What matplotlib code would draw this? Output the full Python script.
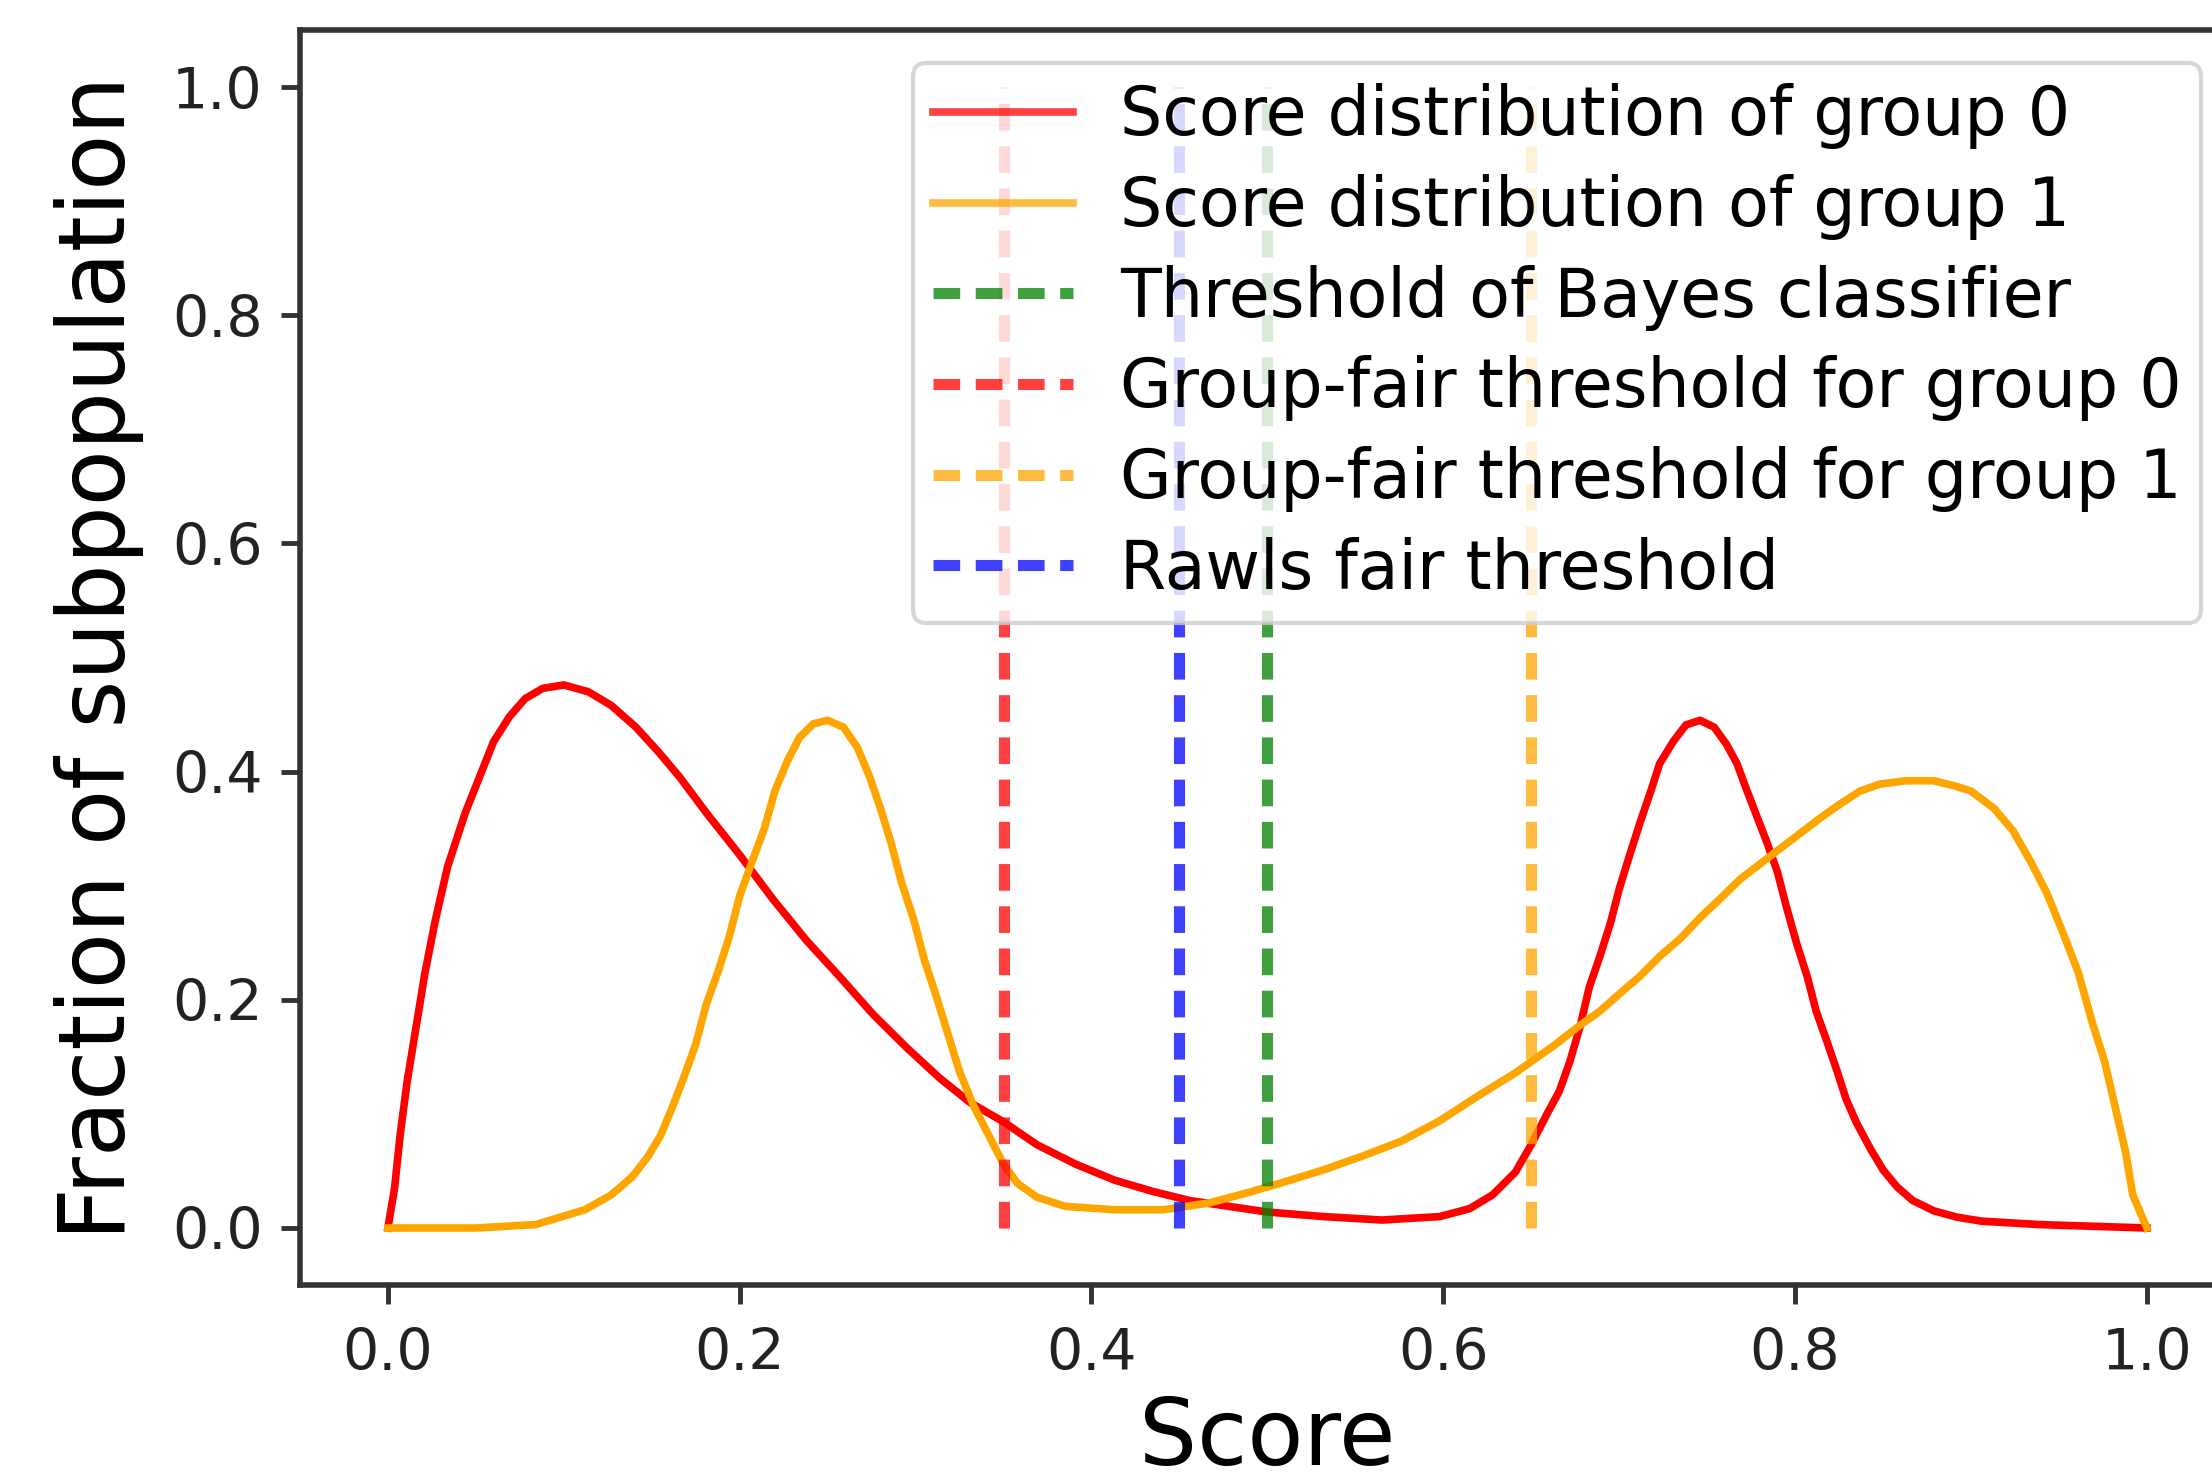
import matplotlib
matplotlib.use("Agg")
import matplotlib.pyplot as plt

# --- data ---
score_g0 = [0.0, 0.0038, 0.007, 0.011, 0.016, 0.021, 0.027, 0.034, 0.044, 0.052, 0.060, 0.069,
            0.078, 0.088, 0.100, 0.114, 0.127, 0.141, 0.154, 0.166, 0.181, 0.200, 0.219, 0.238,
            0.257, 0.276, 0.295, 0.314, 0.331, 0.350, 0.369, 0.391, 0.413, 0.435, 0.456, 0.478,
            0.500, 0.532, 0.565, 0.598, 0.615, 0.628, 0.641, 0.650, 0.659, 0.666, 0.672, 0.678,
            0.683, 0.689, 0.695, 0.700, 0.706, 0.712, 0.718, 0.723, 0.731, 0.738, 0.746, 0.754,
            0.761, 0.767, 0.772, 0.778, 0.784, 0.790, 0.795, 0.801, 0.807, 0.812, 0.818, 0.824,
            0.829, 0.835, 0.843, 0.850, 0.858, 0.867, 0.879, 0.892, 0.906, 0.939, 1.0]
dist_g0 = [0.0, 0.035, 0.082, 0.129, 0.176, 0.223, 0.270, 0.317, 0.364, 0.395, 0.426, 0.448,
           0.464, 0.473, 0.476, 0.470, 0.458, 0.439, 0.417, 0.395, 0.364, 0.327, 0.288, 0.252,
           0.220, 0.187, 0.158, 0.131, 0.110, 0.093, 0.073, 0.056, 0.042, 0.032, 0.024, 0.019,
           0.014, 0.010, 0.007, 0.010, 0.017, 0.029, 0.049, 0.073, 0.100, 0.120, 0.146, 0.178,
           0.211, 0.238, 0.267, 0.297, 0.327, 0.356, 0.383, 0.407, 0.427, 0.441, 0.445, 0.439,
           0.424, 0.407, 0.386, 0.362, 0.338, 0.312, 0.282, 0.249, 0.220, 0.190, 0.164, 0.137,
           0.113, 0.092, 0.069, 0.051, 0.036, 0.024, 0.015, 0.0095, 0.006, 0.003, 0.0]

score_g1 = [0.0, 0.050, 0.084, 0.097, 0.112, 0.127, 0.139, 0.148, 0.155, 0.162, 0.168, 0.175,
            0.181, 0.188, 0.194, 0.200, 0.207, 0.214, 0.220, 0.227, 0.234, 0.242, 0.250, 0.259,
            0.267, 0.274, 0.280, 0.286, 0.292, 0.299, 0.305, 0.312, 0.319, 0.325, 0.333, 0.341,
            0.350, 0.358, 0.369, 0.385, 0.413, 0.441, 0.467, 0.489, 0.511, 0.532, 0.554, 0.576,
            0.598, 0.619, 0.641, 0.663, 0.678, 0.689, 0.700, 0.712, 0.723, 0.735, 0.746, 0.757,
            0.769, 0.780, 0.791, 0.803, 0.814, 0.826, 0.837, 0.848, 0.863, 0.879, 0.892, 0.900,
            0.913, 0.924, 0.934, 0.943, 0.952, 0.961, 0.969, 0.976, 0.982, 0.988, 0.992, 1.0]
dist_g1 = [0.0, 0.0, 0.003, 0.009, 0.016, 0.029, 0.045, 0.063, 0.081, 0.107, 0.131, 0.161,
           0.196, 0.226, 0.255, 0.291, 0.321, 0.350, 0.383, 0.409, 0.430, 0.442, 0.445, 0.439,
           0.421, 0.395, 0.368, 0.338, 0.303, 0.270, 0.235, 0.202, 0.167, 0.137, 0.107, 0.083,
           0.056, 0.039, 0.027, 0.019, 0.016, 0.016, 0.022, 0.031, 0.041, 0.051, 0.063, 0.076,
           0.094, 0.115, 0.136, 0.160, 0.178, 0.190, 0.205, 0.221, 0.238, 0.254, 0.272, 0.288,
           0.306, 0.319, 0.332, 0.346, 0.359, 0.372, 0.383, 0.389, 0.392, 0.392, 0.387, 0.383,
           0.368, 0.348, 0.321, 0.294, 0.260, 0.224, 0.180, 0.146, 0.106, 0.066, 0.029, 0.0]

# thresholds
thr_bayes = 0.5
thr_fair_g0 = 0.35
thr_fair_g1 = 0.65
thr_rawls = 0.45

labels = ["Score distribution of group 0", "Score distribution of group 1",
          "Threshold of Bayes classifier", "Group-fair threshold for group 0",
          "Group-fair threshold for group 1", "Rawls fair threshold"]

# --- plot ---
fig = plt.figure(figsize=(22.12, 14.82), dpi=100)
ax = fig.add_axes([0.1356, 0.1329, 0.8747, 0.8468])

ax.plot(score_g0, dist_g0, color="red", lw=5.5, label=labels[0])
ax.plot(score_g1, dist_g1, color="orange", lw=5.5, label=labels[1])

dash = (0, (2.4, 1.4))
ax.vlines(thr_bayes, 0, 1, colors="green", linestyles=dash, lw=8, alpha=0.75, label=labels[2])
ax.vlines(thr_fair_g0, 0, 1, colors="red", linestyles=dash, lw=8, alpha=0.75, label=labels[3])
ax.vlines(thr_fair_g1, 0, 1, colors="orange", linestyles=dash, lw=8, alpha=0.75, label=labels[4])
ax.vlines(thr_rawls, 0, 1, colors="blue", linestyles=dash, lw=8, alpha=0.75, label=labels[5])

ax.set_xlim(-0.05, 1.05)
ax.set_ylim(-0.05, 1.05)
ax.set_xticks([0.0, 0.2, 0.4, 0.6, 0.8, 1.0])
ax.set_yticks([0.0, 0.2, 0.4, 0.6, 0.8, 1.0])

for sp in ax.spines.values():
    sp.set_linewidth(4)
    sp.set_color("#333333")
ax.tick_params(axis="both", length=14, width=3.5, color="#333333", labelcolor="#222222",
               labelsize=41)
ax.tick_params(axis="y", pad=13)
ax.tick_params(axis="x", pad=16)

ax.set_xlabel("Score", fontsize=66, labelpad=9)
ax.set_ylabel("Fraction of subpopulation", fontsize=66, labelpad=20)

leg = ax.legend(loc="upper right", fontsize=48, labelspacing=0.37, handlelength=2.1,
                handletextpad=0.7, borderpad=0.3, framealpha=0.8)
leg.get_frame().set_linewidth(3)
for h in leg.legend_handles:
    h.set_alpha(0.75)

fig.savefig("out.png", dpi=100)
